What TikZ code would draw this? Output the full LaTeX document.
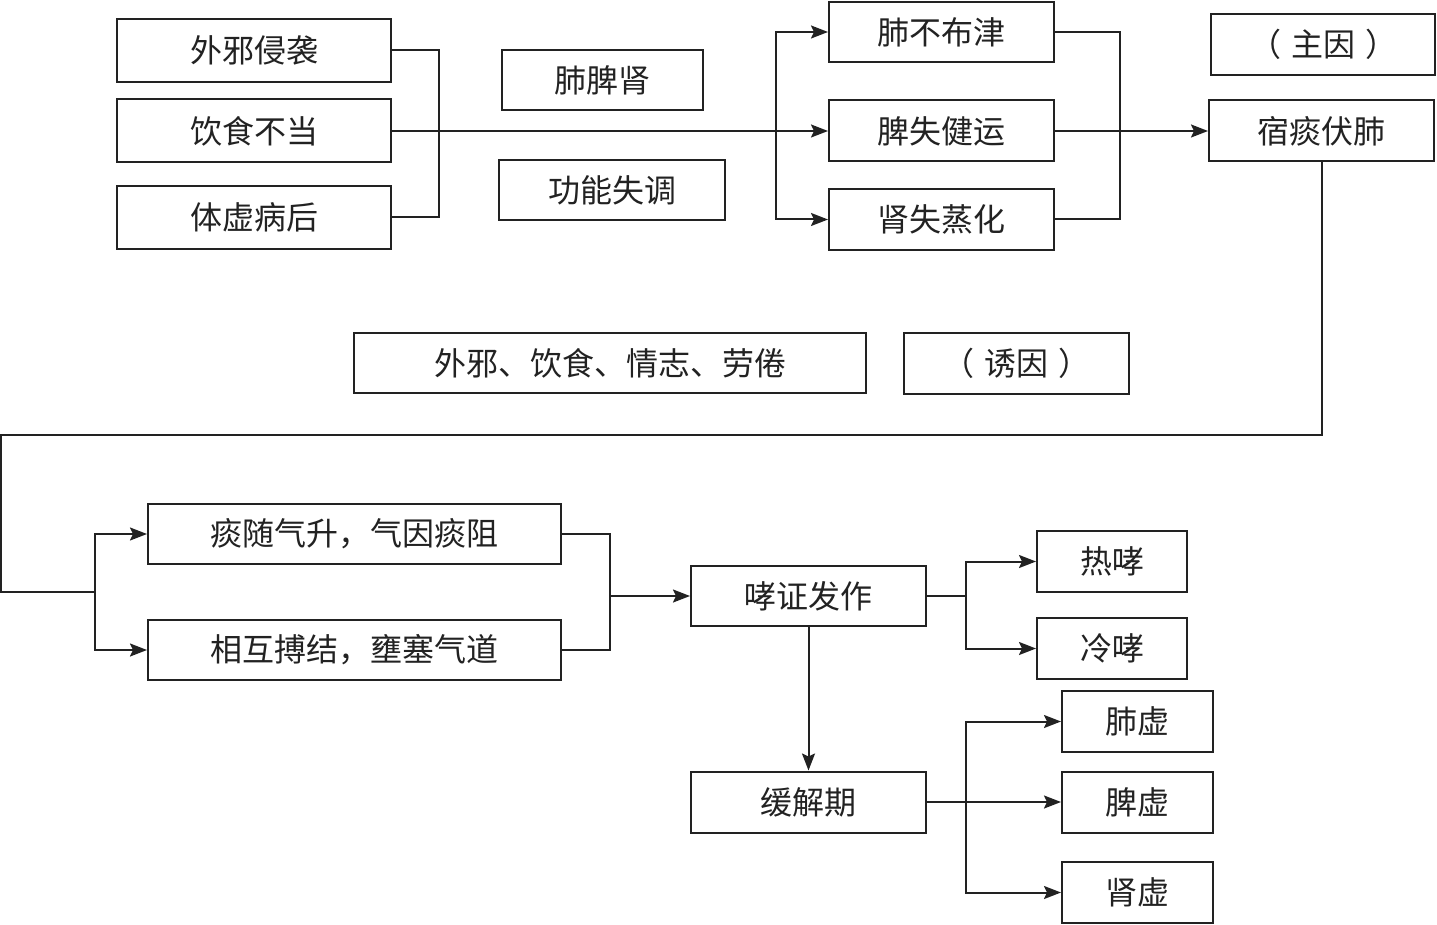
\documentclass[tikz,border=0pt]{standalone}
\usepackage{fontspec}
\newfontfamily\cjk{Noto Sans CJK SC}
\usetikzlibrary{arrows.meta}
\definecolor{ink}{HTML}{222222}
\tikzset{
  box/.style={draw=ink, line width=2pt, inner sep=0pt, anchor=center, text=ink,
    font=\cjk\fontsize{32}{32}\selectfont},
  conn/.style={draw=ink, line width=2pt},
  arr/.style={conn, -{Stealth[length=17pt,width=13pt,inset=3pt]}}
}
\begin{document}
\begin{tikzpicture}[x=1pt,y=-1pt]
\useasboundingbox (0,0) rectangle (1437,925);
% top row
\node[box, minimum width=274pt, minimum height=63pt] (a1) at (254,50.5) {外邪侵袭};
\node[box, minimum width=274pt, minimum height=63pt] (a2) at (254,131) {饮食不当};
\node[box, minimum width=274pt, minimum height=63pt] (a3) at (254,217.5) {体虚病后};
\node[box, minimum width=201pt, minimum height=60pt] (fps) at (602.5,80) {肺脾肾};
\node[box, minimum width=226pt, minimum height=60pt] (gn) at (612,190) {功能失调};
\node[box, minimum width=225pt, minimum height=60pt] (b1) at (941.5,32) {肺不布津};
\node[box, minimum width=225pt, minimum height=61pt] (b2) at (941.5,131) {脾失健运};
\node[box, minimum width=225pt, minimum height=61pt] (b3) at (941.5,219.5) {肾失蒸化};
\node[box, minimum width=224pt, minimum height=61pt] (zy) at (1323,44.5) {（\hspace{10pt}主因\hspace{10pt}）};
\node[box, minimum width=225pt, minimum height=61pt] (st) at (1321.5,131) {宿痰伏肺};
% middle
\node[box, minimum width=512pt, minimum height=60pt] (wx) at (610,363) {外邪、饮食、情志、劳倦};
\node[box, minimum width=225pt, minimum height=61pt] (yy) at (1016.5,363.5) {（\hspace{10pt}诱因\hspace{10pt}）};
% lower
\node[box, minimum width=413pt, minimum height=60pt] (c1) at (354.5,534) {痰随气升，气因痰阻};
\node[box, minimum width=413pt, minimum height=60pt] (c2) at (354.5,650) {相互搏结，壅塞气道};
\node[box, minimum width=235pt, minimum height=60pt] (xz) at (808.5,596) {哮证发作};
\node[box, minimum width=150pt, minimum height=61pt] (rx) at (1112,561.5) {热哮};
\node[box, minimum width=150pt, minimum height=61pt] (lx) at (1112,648.5) {冷哮};
\node[box, minimum width=235pt, minimum height=61pt] (hj) at (808.5,802) {缓解期};
\node[box, minimum width=151pt, minimum height=61pt] (fx) at (1137.5,721.5) {肺虚};
\node[box, minimum width=151pt, minimum height=61pt] (px) at (1137.5,802) {脾虚};
\node[box, minimum width=151pt, minimum height=61pt] (sx) at (1137.5,892.5) {肾虚};
% junction coordinates
\coordinate (j1) at (776,131);
\coordinate (k1) at (1,435);
\coordinate (k2) at (95,592);
\coordinate (m1) at (609,596);
\coordinate (n1) at (966,596);
\coordinate (n2) at (966,802);
% connectors top
\draw[conn] (a1.east) -- ++(47,0) |- (a3.east);
\draw[arr] (a2.east) -- (b2.west);
\draw[arr] (j1) |- (b1.west);
\draw[arr] (j1) |- (b3.west);
\draw[conn] (b1.east) -- ++(65,0) |- (b3.east);
\draw[arr] (b2.east) -- (st.west);
% long return line
\draw[conn] (st.south) |- (k1) |- (k2);
\draw[arr] (k2) |- (c1.west);
\draw[arr] (k2) |- (c2.west);
\draw[conn] (c1.east) -- ++(48,0) |- (c2.east);
\draw[arr] (m1) -- (xz.west);
\draw[conn] (xz.east) -- (n1);
\draw[arr] (n1) |- (rx.west);
\draw[arr] (n1) |- (lx.west);
\draw[arr] (xz.south) -- (hj.north);
\draw[arr] (hj.east) -- (px.west);
\draw[arr] (n2) |- (fx.west);
\draw[arr] (n2) |- (sx.west);
\end{tikzpicture}
\end{document}
